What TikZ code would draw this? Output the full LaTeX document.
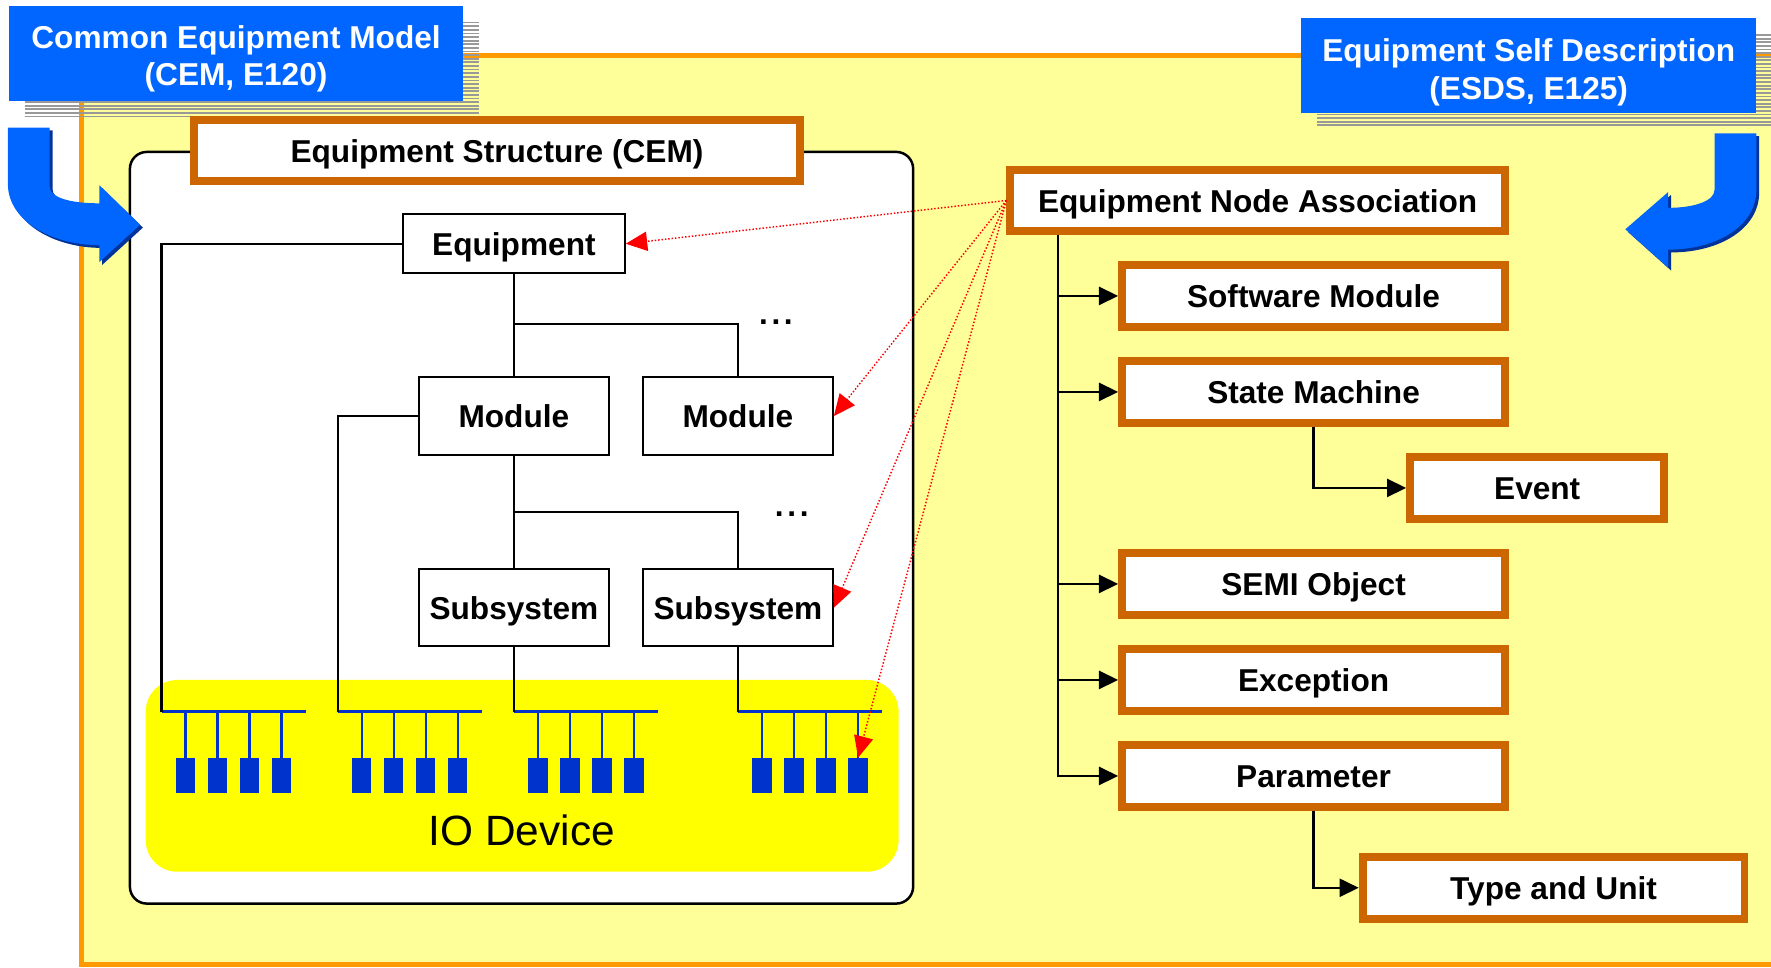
\documentclass[tikz,border=0pt]{standalone}
\usepackage{fontspec}
\setmainfont{Liberation Sans}
\usetikzlibrary{arrows.meta,calc}

\definecolor{panelyellow}{HTML}{FFFF99}
\definecolor{frameorange}{HTML}{FF9900}
\definecolor{boxorange}{HTML}{CC6600}
\definecolor{titleblue}{HTML}{0066FF}
\definecolor{arrowshade}{HTML}{003399}
\definecolor{iodevblue}{HTML}{0033CC}
\definecolor{ioyellow}{HTML}{FFFF00}
\definecolor{stripegray}{HTML}{999999}

\newcommand\lblfont{\bfseries\fontsize{28}{33}\selectfont}

\begin{document}
\begin{tikzpicture}[x=1pt,y=-1pt,
  obox/.style={draw=boxorange,line width=7pt,fill=white,inner sep=0pt,font=\lblfont,text height=21pt,text depth=0pt},
  kbox/.style={draw=black,line width=1.6pt,fill=white,inner sep=0pt,font=\lblfont,text height=21pt,text depth=0pt},
  titlebox/.style={fill=titleblue,inner sep=0pt},
  titletext/.style={text=white,inner sep=0pt,align=center,font=\lblfont},
  stripe/.style={draw=stripegray,line width=1.6pt},
  tree/.style={draw=black,line width=2pt},
  treearr/.style={tree,-{Triangle[length=17pt,width=16pt]}},
  link/.style={draw=red,line width=1.3pt,dash pattern=on 1.3pt off 1.7pt,-{Triangle[length=19pt,width=17pt]}},
  bus/.style={draw=iodevblue,line width=2.2pt},
  dev/.style={fill=iodevblue,inner sep=0pt,minimum width=17pt,minimum height=31pt},
]
\useasboundingbox (0,0) rectangle (1568,857);
\clip (0,0) rectangle (1568,857);
\fill[white] (0,0) rectangle (1568,857);

% yellow panel with orange frame
\draw[draw=frameorange,line width=4.5pt,fill=panelyellow] (72,49.5) rectangle (1620,854);

% striped shadows of the two title boxes
\foreach \yy in {20,23.2,...,104} \draw[stripe] (22,\yy) -- (424,\yy);
\foreach \yy in {31,34.2,...,114} \draw[stripe] (1166,\yy) -- (1568,\yy);

% title boxes
\node[titlebox,minimum width=402pt,minimum height=84pt] (cembox) at (209,47) {};
\node[titletext] (cem) at (209,52) {Common Equipment Model\\(CEM, E120)};
\node[titlebox,minimum width=403pt,minimum height=84pt] (esdsbox) at (1353.5,58) {};
\node[titletext] (esds) at (1353.5,64) {Equipment Self Description\\(ESDS, E125)};

% equipment structure frame
\draw[fill=white,line width=2.2pt,rounded corners=15pt] (115,134.5) rectangle (808.5,800);

% IO device area
\node[fill=ioyellow,rounded corners=28pt,minimum width=666.6pt,minimum height=169.8pt,inner sep=0pt] (io) at (462.3,686.9) {};
\node[font=\fontsize{37.5}{40}\selectfont,anchor=base] (iolabel) at (462,749) {IO Device};

% bent arrows
\foreach \sh/\col in {2.5/arrowshade,0/titleblue}
  \fill[\col,shift={(\sh,\sh)}] (7,113) -- (44,113) -- (44,165)
    .. controls (44,175) and (62,180) .. (88,180) -- (88,164) -- (124,199)
    -- (88,232) -- (88,217) .. controls (45,217) and (7,195) .. (7,163) -- cycle;
\foreach \sh/\col in {2.5/arrowshade,0/titleblue}
  \fill[\col,shift={(\sh,\sh)}] (1555,118) -- (1518,118) -- (1518,168)
    .. controls (1518,178) and (1500,184) .. (1477,184) -- (1477,170) -- (1439,203)
    -- (1477,237) -- (1477,221) .. controls (1520,221) and (1555,200) .. (1555,168) -- cycle;

% structure title
\node[obox,minimum width=537pt,minimum height=54pt] (est) at (440,133.5) {Equipment Structure (CEM)};

% equipment hierarchy
\node[kbox,minimum width=196.4pt,minimum height=52pt] (eq) at (455,215.8) {Equipment};
\node[kbox,minimum width=168.4pt,minimum height=69pt] (m1) at (455,368.3) {Module};
\node[kbox,minimum width=168.4pt,minimum height=69pt] (m2) at (653.3,368.3) {Module};
\node[kbox,minimum width=168.4pt,minimum height=68.4pt] (s1) at (455,538) {Subsystem};
\node[kbox,minimum width=168.4pt,minimum height=68.4pt] (s2) at (653.3,538) {Subsystem};
\node[font=\lblfont,anchor=base] (dots1) at (687,287.5) {.\hspace{3.2pt}.\hspace{3.2pt}.};
\node[font=\lblfont,anchor=base] (dots2) at (701,457.5) {.\hspace{3.2pt}.\hspace{3.2pt}.};

% IO buses and devices
\foreach \g/\x in {1/143,2/299,3/455,4/653.3} {
  \coordinate (bus\g) at (\x,630);
  \draw[bus] (bus\g) -- ++(127.5,0);
  \foreach \i/\dx in {1/21.3,2/49.7,3/78,4/106.4} {
    \node[dev] (dev\g\i) at (\x+\dx,686.5) {};
    \draw[bus] (dev\g\i.north) -- (dev\g\i.north |- bus\g);
  }
}

\coordinate (j1) at (455,287);
\coordinate (j2) at (455,453);
\draw[tree] (eq.west) -| (bus1);
\draw[tree] (m1.west) -| (bus2);
\draw[tree] (eq.south) -- (m1.north);
\draw[tree] (j1) -| (m2.north);
\draw[tree] (m1.south) -- (s1.north);
\draw[tree] (j2) -| (s2.north);
\draw[tree] (s1.south) -- (bus3);
\draw[tree] (s2.south) -- (bus4);

% equipment self description tree
\node[obox,minimum width=438pt,minimum height=54pt] (ena) at (1113.5,177.5) {Equipment Node Association};
\node[obox,minimum width=339pt,minimum height=55pt] (sw) at (1163,262) {Software Module};
\node[obox,minimum width=339pt,minimum height=55pt] (sm) at (1163,347) {State Machine};
\node[obox,minimum width=225pt,minimum height=55pt] (ev) at (1361,432) {Event};
\node[obox,minimum width=339pt,minimum height=55pt] (so) at (1163,517) {SEMI Object};
\node[obox,minimum width=339pt,minimum height=55pt] (ex) at (1163,602) {Exception};
\node[obox,minimum width=339pt,minimum height=55pt] (pa) at (1163,687) {Parameter};
\node[obox,minimum width=338pt,minimum height=55pt] (tu) at (1375.5,786) {Type and Unit};

\coordinate (spine) at ([xshift=46pt]ena.south west);
\draw[treearr] (spine) |- (pa.west);
\foreach \b in {sw,sm,so,ex} \draw[treearr] (spine |- \b.west) -- (\b.west);
\draw[treearr] (sm.south) |- (ev.west);
\draw[treearr] (pa.south) |- (tu.west);

% node associations
\foreach \t in {eq.east,m2.east,s2.east,dev44.north}
  \draw[link] (ena.west) -- (\t);
\end{tikzpicture}
\end{document}
